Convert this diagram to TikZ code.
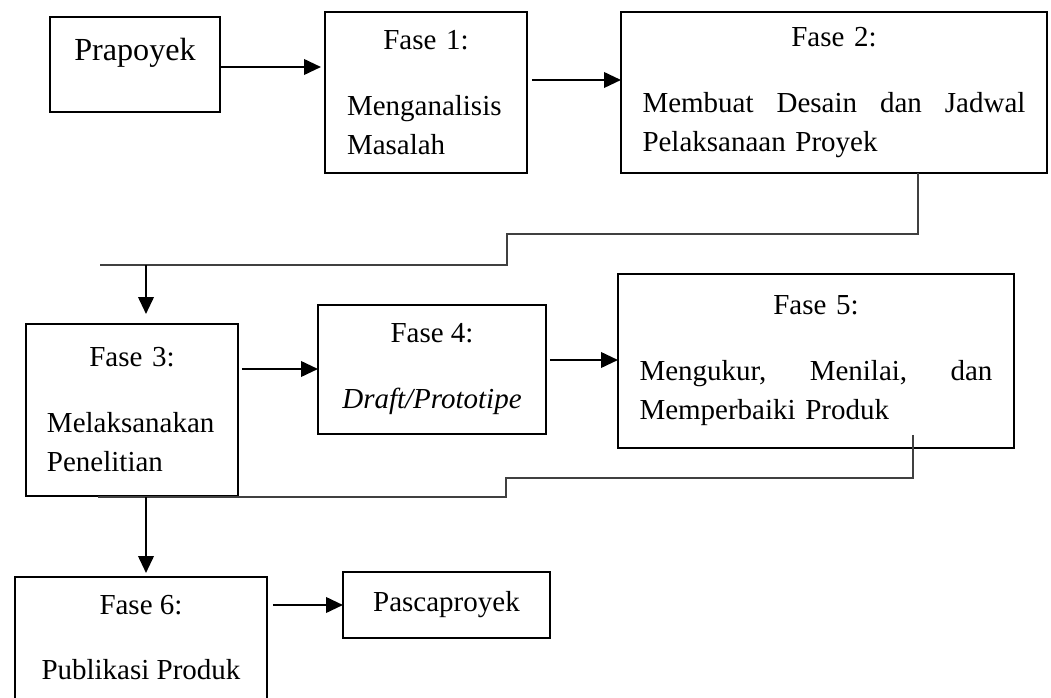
\documentclass[tikz,border=0pt]{standalone}
\usepackage{fontspec}
\setmainfont{Liberation Serif}
\usetikzlibrary{arrows.meta}
\setlength{\parindent}{0pt}
\hyphenpenalty=10000

\begin{document}
\begin{tikzpicture}[
  x=0.02cm, y=-0.02cm,
  box/.style={rectangle, draw, line width=1.4pt, anchor=north west, outer sep=0pt,
    font=\fontsize{16.5}{22.2}\selectfont},
  phase/.style={box, inner ysep=0pt},
  arrow/.style={-{Triangle[length=0.34cm, width=0.31cm]}, line width=1.3pt},
  link/.style={line width=0.65pt, black!75}
]
\useasboundingbox (0,0) rectangle (1051,697);
\clip (0,0) rectangle (1051,697);
\node[box, minimum width=3.4cm, inner sep=0pt, text height=0.88cm, text depth=1.02cm,
  font=\fontsize{18.3}{22.2}\selectfont] (pra) at (50,17) {Prapoyek};
\node[phase, minimum width=4.04cm, minimum height=3.22cm, text width=3.16cm, inner xsep=0.44cm] (f1) at (325,12)
  {{\centering Fase 1:\par}\vspace{15.4pt}Menganalisis\\Masalah};
\node[phase, minimum width=8.52cm, minimum height=3.22cm, text width=7.66cm, inner xsep=0.43cm] (f2) at (621,12)
  {{\centering Fase 2:\par}\vspace{15.4pt}Membuat\hfill Desain\hfill dan\hfill Jadwal\\Pelaksanaan Proyek};
\node[phase, minimum width=4.24cm, minimum height=3.44cm, text width=3.4cm, inner xsep=0.42cm] (f3) at (26,324)
  {{\centering Fase 3:\par}\vspace{15.4pt}Melaksanakan\\Penelitian};
\node[phase, minimum width=4.56cm, minimum height=2.58cm, align=center] (f4) at (318,305)
  {Fase 4:\\[15.4pt]\textit{Draft/Prototipe}};
\node[phase, minimum width=7.92cm, minimum height=3.48cm, text width=7.06cm, inner xsep=0.43cm] (f5) at (618,274)
  {{\centering Fase 5:\par}\vspace{15.4pt}Mengukur,\hfill Menilai,\hfill dan\\Memperbaiki Produk};
\node[phase, minimum width=5.04cm, minimum height=2.44cm, align=center] (f6) at (15,577)
  {Fase 6:\\[14.8pt]Publikasi Produk};
\node[box, minimum width=4.14cm, minimum height=1.32cm] (pas) at (343,572) {Pascaproyek};

% arrows between the phases
\draw[arrow, shorten >=0.08cm] ([yshift=-0.05cm]pra.east) -- ([yshift=-0.05cm]pra.east -| f1.west);
\draw[arrow] ([xshift=0.1cm, yshift=0.25cm]f1.east) -- ([yshift=0.25cm]f1.east -| f2.west);
\draw[arrow] ([xshift=0.08cm, yshift=0.82cm]f3.east) -- ([yshift=0.82cm]f3.east -| f4.west);
\draw[arrow] ([xshift=0.08cm, yshift=0.19cm]f4.east) -- ([yshift=0.19cm]f4.east -| f5.west);
\draw[arrow] ([xshift=0.12cm]f6.east |- pas.west) -- (pas.west);

% stepped lines back to the left
\coordinate (k1) at (918,234);
\coordinate (k2) at (507,234);
\coordinate (k3) at (507,265);
\coordinate (k4) at (100,265);
\coordinate (d1) at (146,265);
\draw[link] (f2.south -| k1) -- (k1) -- (k2) -- (k3) -- (k4);
\draw[arrow, shorten >=0.2cm] (d1) -- (f3.north -| d1);
\coordinate (m1) at (913,478);
\coordinate (m2) at (506,478);
\coordinate (m3) at (506,497);
\coordinate (m4) at (98,497);
\coordinate (d2) at (146,497);
\draw[link] ([yshift=0.26cm]f5.south -| m1) -- (m1) -- (m2) -- (m3) -- (m4);
\draw[arrow, shorten >=0.08cm] (d2) -- (f6.north -| d2);
\end{tikzpicture}
\end{document}
